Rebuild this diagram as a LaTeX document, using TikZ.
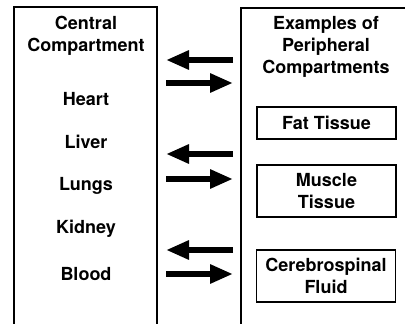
\documentclass[tikz,border=0pt]{standalone}
\usepackage{fontspec}
\setmainfont{TeX Gyre Heros}
\usetikzlibrary{arrows.meta}

\begin{document}
\begin{tikzpicture}[x = 1pt, y = -1pt,
    txt/.style = {font=\fontsize{18}{22}\selectfont\bfseries, align=center, inner sep=0pt},
    tissue/.style = {draw, line width=1.5pt, minimum width=139pt, inner sep=0pt},
    flow/.style = {line width=6pt, -{Triangle[length=23pt,width=18pt]}}]
        \useasboundingbox(0,0) rectangle(405,324);
        \coordinate(C1)at(14,330);
        \coordinate(C2)at(14,7);
        \coordinate(C3)at(157,7);
        \coordinate(C4)at(157,330);
        \coordinate(P1)at(241,330);
        \coordinate(P2)at(241,8);
        \coordinate(P3)at(410,8);
        % compartments
        \path[draw, line width=1.6pt](C1)--(C2)--(C3)--(C4);
        \path[draw, line width=1.6pt](P1)--(P2)--(P3);
        \node[txt](central)at(86,36){Central\\Compartment};
        \node[txt](heart)at(86,99){Heart};
        \node[txt](liver)at(86,142){Liver};
        \node[txt](lungs)at(86,186){Lungs};
        \node[txt](kidney)at(86,229){Kidney};
        \node[txt](blood)at(86,274){Blood};
        \node[txt](examples)at(326,46.5){Examples of\\Peripheral\\Compartments};
        \node[txt, tissue, minimum height=32pt](fat)at(326.5,123){Fat Tissue};
        \node[txt, tissue, minimum height=52pt](muscle)at(326.5,191){Muscle\\Tissue};
        \node[txt, tissue, minimum height=52pt](csf)at(326,276){Cerebrospinal\\Fluid};
        % arrows
        \coordinate(A1)at(233,60);
        \coordinate(B1)at(166,60);
        \coordinate(A2)at(166,83);
        \coordinate(B2)at(233,83);
        \coordinate(A3)at(233,154);
        \coordinate(B3)at(166,154);
        \coordinate(A4)at(166,179);
        \coordinate(B4)at(233,179);
        \coordinate(A5)at(233,250);
        \coordinate(B5)at(166,250);
        \coordinate(A6)at(166,274);
        \coordinate(B6)at(233,274);
        \foreach \i in {1,...,6}
            \path[draw, flow](A\i)to(B\i);
    \end{tikzpicture}
\end{document}
